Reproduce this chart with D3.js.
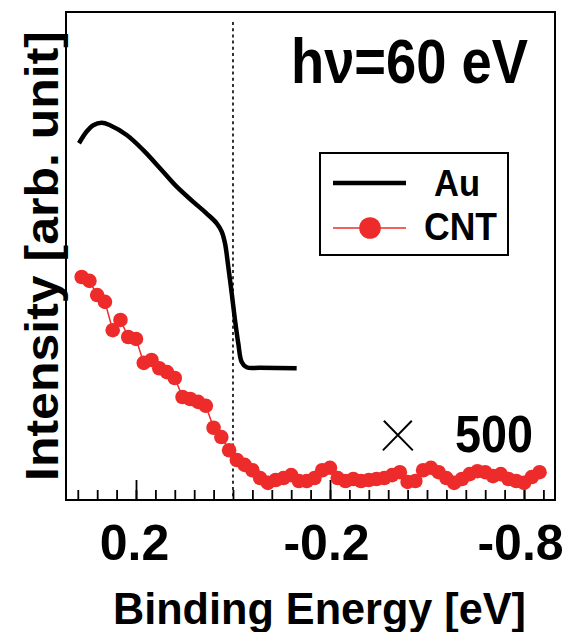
<!DOCTYPE html>
<html>
<head>
<meta charset="utf-8">
<script src="https://cdn.jsdelivr.net/npm/d3@7"></script>
<style>
  html, body { margin: 0; padding: 0; background: #fff; }
  svg { display: block; }
  text { font-family: "Liberation Sans", Arial, sans-serif; font-weight: bold; fill: #000; }
</style>
</head>
<body>
<svg id="chart" width="566" height="632"></svg>
<script>
// ---- data ----
const auEnergy = [0.3175, 0.3016, 0.288, 0.2707, 0.2536, 0.2192, 0.185, 0.1505, 0.1161, 0.0819, 0.0542,
  0.0336, 0.0233, 0.0165, 0.0097, 0.0027, -0.0041, -0.0109, -0.0179, -0.0282, -0.0557, -0.1313];
const auIntensity = [73.1, 75.5, 76.8, 77.3, 76.8, 74.8, 71.7, 68.0, 64.2, 61.1, 58.7,
  56.7, 55.0, 52.6, 47.8, 42.4, 36.9, 32.1, 28.3, 27.2, 27.1, 27.0];

const cntEnergy = [0.312, 0.296, 0.280, 0.264, 0.248, 0.232, 0.216, 0.200, 0.184, 0.168,
  0.152, 0.136, 0.120, 0.104, 0.088, 0.072, 0.056, 0.040, 0.024, 0.008,
  -0.008, -0.024, -0.040, -0.056, -0.072, -0.088, -0.104, -0.120, -0.136, -0.152,
  -0.168, -0.184, -0.200, -0.216, -0.232, -0.248, -0.264, -0.280, -0.296, -0.312,
  -0.328, -0.344, -0.360, -0.376, -0.392, -0.408, -0.424, -0.440, -0.456, -0.472,
  -0.488, -0.504, -0.520, -0.536, -0.552, -0.568, -0.584, -0.600, -0.616, -0.632];
const cntIntensity = [45.7, 44.9, 42.0, 40.6, 34.8, 36.9, 33.4, 33.0, 28.1, 28.7,
  27.0, 26.2, 25.0, 21.1, 20.7, 20.1, 19.3, 14.8, 12.9, 10.2,
  8.2, 7.2, 6.1, 4.5, 3.5, 4.1, 4.5, 5.1, 3.9, 3.9,
  4.5, 6.1, 6.6, 4.5, 3.9, 4.3, 3.9, 4.1, 4.3, 4.5,
  5.1, 5.7, 3.7, 3.9, 6.1, 6.6, 5.7, 4.5, 3.5, 4.3,
  5.3, 5.9, 5.7, 4.9, 5.3, 4.3, 3.9, 3.5, 4.7, 5.7];

const majorTicks = [0.2, -0.2, -0.6];
const tickLabels = ["0.2", "-0.2", "-0.8"];
const minorTicks = [0.32, 0.28, 0.24, 0.20, 0.16, 0.12, 0.08, 0.04, 0.00, -0.04, -0.08, -0.12,
  -0.16, -0.20, -0.24, -0.28, -0.32, -0.36, -0.40, -0.44, -0.48, -0.52, -0.56, -0.60, -0.64];
const fermiLevel = 0;

const seriesNames = ["Au", "CNT"];
const titleText = "h\u03BD=60 eV";
const factorSign = "\u00D7";
const factorText = "500";
const xTitle = "Binding Energy [eV]";
const yTitle = "Intensity [arb. unit]";

// ---- layout ----
const plotLeft = 66, plotRight = 555, plotTop = 12, plotBottom = 500;
const red = "#ee2b2b";

const svg = d3.select("#chart");

const x = d3.scaleLinear().domain([0.3443, -0.6639]).range([plotLeft, plotRight]);
const y = d3.scaleLinear().domain([0, 100]).range([plotBottom, plotTop]);

// frame
svg.append("rect")
  .attr("x", plotLeft).attr("y", plotTop)
  .attr("width", plotRight - plotLeft).attr("height", plotBottom - plotTop)
  .attr("fill", "none").attr("stroke", "#000").attr("stroke-width", 2);

// axis ticks
const gMinor = svg.append("g").attr("transform", `translate(0,${plotBottom})`)
  .call(d3.axisBottom(x).tickValues(minorTicks).tickSize(-10).tickFormat(""));
gMinor.select(".domain").remove();
gMinor.selectAll(".tick line").attr("stroke-width", 1.8);

const gMajor = svg.append("g").attr("transform", `translate(0,${plotBottom})`)
  .call(d3.axisBottom(x).tickValues(majorTicks).tickSize(-20)
    .tickFormat((d, i) => tickLabels[i]));
gMajor.select(".domain").remove();
gMajor.selectAll(".tick line").attr("stroke-width", 1.8);
gMajor.selectAll(".tick text")
  .attr("y", 60).attr("dy", 0)
  .style("font-family", '"Liberation Sans", Arial, sans-serif')
  .style("font-weight", "bold")
  .style("font-size", "50px")
  .attr("fill", "#000")
  .attr("dx", (d, i) => i === 0 ? -2 : -4);

// Fermi level dotted line
svg.append("line")
  .attr("x1", x(fermiLevel)).attr("x2", x(fermiLevel))
  .attr("y1", 22).attr("y2", plotBottom)
  .attr("stroke", "#000").attr("stroke-width", 1.6)
  .attr("stroke-dasharray", "3,3.2");

// Au curve
const auData = auEnergy.map((e, i) => [e, auIntensity[i]]);
svg.append("path")
  .datum(auData)
  .attr("fill", "none").attr("stroke", "#000").attr("stroke-width", 4.5)
  .attr("stroke-linejoin", "round").attr("stroke-linecap", "butt")
  .attr("d", d3.line().x(d => x(d[0])).y(d => y(d[1])).curve(d3.curveCatmullRom.alpha(0.5)));

// CNT curve
const cntData = cntEnergy.map((e, i) => [e, cntIntensity[i]]);
svg.append("path")
  .datum(cntData)
  .attr("fill", "none").attr("stroke", red).attr("stroke-width", 1.5)
  .attr("d", d3.line().x(d => x(d[0])).y(d => y(d[1])));
svg.append("g").selectAll("circle").data(cntData).join("circle")
  .attr("cx", d => x(d[0])).attr("cy", d => y(d[1]))
  .attr("r", 7.3).attr("fill", red);

// legend
const lg = svg.append("g");
lg.append("rect").attr("x", 320).attr("y", 153).attr("width", 188).attr("height", 102)
  .attr("fill", "#fff").attr("stroke", "#000").attr("stroke-width", 2);
lg.append("line").attr("x1", 333).attr("x2", 406).attr("y1", 183).attr("y2", 183)
  .attr("stroke", "#000").attr("stroke-width", 4.5);
lg.append("line").attr("x1", 333).attr("x2", 406).attr("y1", 228).attr("y2", 228)
  .attr("stroke", red).attr("stroke-width", 1.5);
lg.append("circle").attr("cx", 370).attr("cy", 228).attr("r", 10.8).attr("fill", red);
lg.append("text").attr("x", 434).attr("y", 196).style("font-size", "37px")
  .attr("textLength", 46).attr("lengthAdjust", "spacingAndGlyphs").text(seriesNames[0]);
lg.append("text").attr("x", 424).attr("y", 240).style("font-size", "38px")
  .attr("textLength", 73).attr("lengthAdjust", "spacingAndGlyphs").text(seriesNames[1]);

// annotations
svg.append("text").attr("x", 291).attr("y", 83).style("font-size", "63px")
  .attr("textLength", 237).attr("lengthAdjust", "spacingAndGlyphs").text(titleText);
svg.append("text").attr("x", 398).attr("y", 451).attr("text-anchor", "middle")
  .style("font-family", "Roboto, sans-serif").style("font-weight", "100")
  .style("font-size", "76px").text(factorSign);
svg.append("text").attr("x", 455).attr("y", 452).style("font-size", "52px")
  .attr("textLength", 78).attr("lengthAdjust", "spacingAndGlyphs").text(factorText);

// axis titles
svg.append("text").attr("x", 113).attr("y", 624).style("font-size", "44px")
  .attr("textLength", 413).attr("lengthAdjust", "spacingAndGlyphs").text(xTitle);
svg.append("text")
  .attr("transform", "translate(58,256) rotate(-90)")
  .attr("text-anchor", "middle").style("font-size", "46px")
  .attr("textLength", 450).attr("lengthAdjust", "spacingAndGlyphs").text(yTitle);
</script>
</body>
</html>
